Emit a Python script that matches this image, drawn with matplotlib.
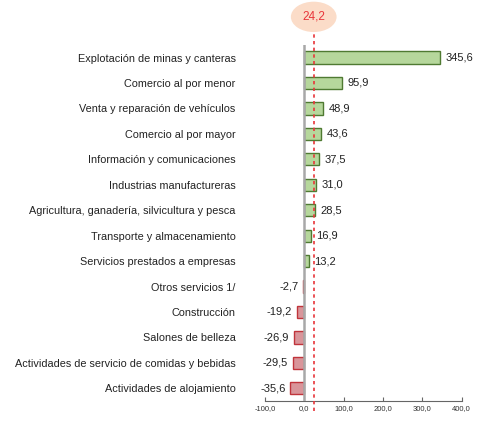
import matplotlib
matplotlib.use("Agg")
import matplotlib.pyplot as plt

categories = [
    "Explotación de minas y canteras",
    "Comercio al por menor",
    "Venta y reparación de vehículos",
    "Comercio al por mayor",
    "Información y comunicaciones",
    "Industrias manufactureras",
    "Agricultura, ganadería, silvicultura y pesca",
    "Transporte y almacenamiento",
    "Servicios prestados a empresas",
    "Otros servicios 1/",
    "Construcción",
    "Salones de belleza",
    "Actividades de servicio de comidas y bebidas",
    "Actividades de alojamiento",
]
values = [345.6, 95.9, 48.9, 43.6, 37.5, 31.0, 28.5, 16.9, 13.2,
          -2.7, -19.2, -26.9, -29.5, -35.6]
average = 24.2
xticks = [-100, 0, 100, 200, 300, 400]

plt.rcParams["font.family"] = ["Liberation Sans", "DejaVu Sans"]


def fmt(v):
    return f"{v:.1f}".replace(".", ",")


fig = plt.figure(figsize=(4.78, 4.23), dpi=100)
ax = fig.add_axes([0.554, 0.052, 0.412, 0.842])

ypos = list(range(len(values)))
fills = ["#b6d79c" if v >= 0 else "#d9959a" for v in values]
edges = ["#4f7a32" if v >= 0 else "#c0343b" for v in values]
ax.barh(ypos, values, height=0.48, color=fills, edgecolor=edges, linewidth=1.0, zorder=3)

for y, v in zip(ypos, values):
    if v >= 0:
        ax.text(v + 13, y, fmt(v), va="center", ha="left", fontsize=8, color="#222222")
    else:
        ax.text(v - 11, y, fmt(v), va="center", ha="right", fontsize=8, color="#222222")

ax.axvline(0, color="#a8a8a8", linewidth=1.8, zorder=4)
ax.plot([average, average], [13.9, -1.0], color="#e8353a", linestyle=(0, (2, 2)),
        linewidth=1.2, clip_on=False, zorder=5)
ax.text(average, -1.6, fmt(average), ha="center", va="center", fontsize=8.5,
        color="#e8353a", clip_on=False,
        bbox=dict(boxstyle="ellipse,pad=0.4", facecolor="#fbdcc8", edgecolor="none"))

ax.set_xlim(-100, 400)
ax.set_ylim(13.5, -0.5)
ax.set_xticks(xticks)
ax.set_xticklabels([fmt(t) for t in xticks], fontsize=5.5, color="#333333")
ax.tick_params(axis="x", direction="in", length=3, width=0.8, color="#666666", pad=3)
ax.set_yticks(ypos)
ax.set_yticklabels(categories, fontsize=7.8, color="#222222")
ax.tick_params(axis="y", length=0, pad=21)

for side in ["left", "right", "top"]:
    ax.spines[side].set_visible(False)
ax.spines["bottom"].set_color("#666666")
ax.spines["bottom"].set_linewidth(0.8)

fig.savefig("out.png", dpi=100)
